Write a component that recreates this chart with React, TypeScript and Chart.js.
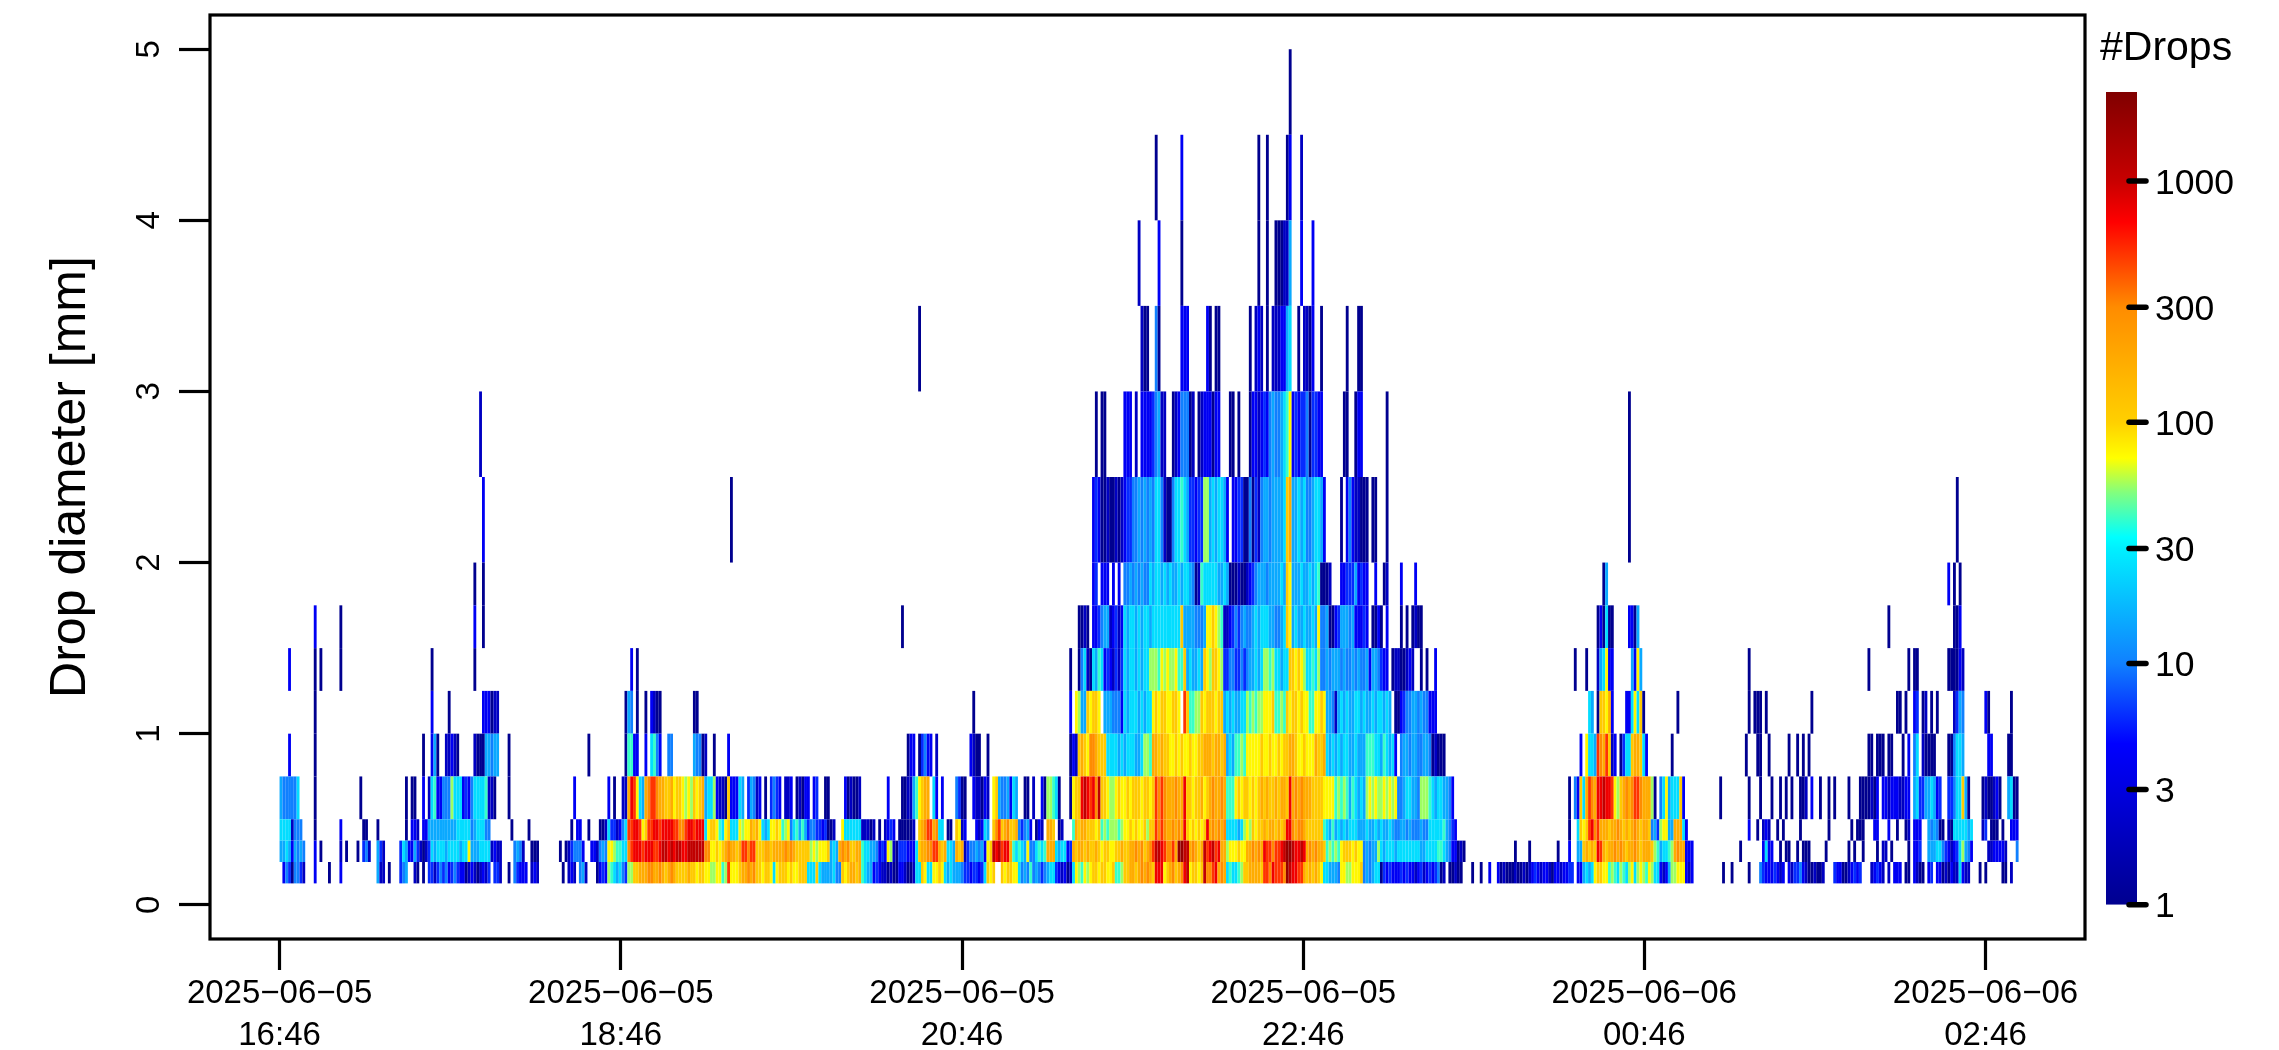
import { useEffect, useRef } from 'react';
import { Chart, registerables } from 'chart.js';

Chart.register(...registerables);

type Seg = [number, string];

const FONT = '"Liberation Sans", Arial, sans-serif';

// bin edges of the disdrometer classes [mm]
const binEdges = [0.125, 0.25, 0.375, 0.5, 0.75, 1, 1.25, 1.5, 1.75, 2, 2.5, 3, 3.5, 4, 4.5, 5];

// every letter is one estimated drop count, read from the colour of the cell
const levelLetters = 'abcdefghijklmnopq';
const levelCounts = [1, 2, 4, 6, 10, 15, 25, 40, 55, 75, 110, 180, 300, 500, 750, 1100, 1800];

// [first record after 16:46, counts of consecutive records]
const bin0: Seg[] = [[1,"cedaeedb"],[12,"c"],[17,"a"],[21,"c"],[34,"fbb"],[38,"a"],[42,"def"],[47,"ba"],[50,"a"],[52,"ddbdedecdedccabcbabcbd"],[75,"ddb"],[80,"a"],[82,"edccc"],[88,"bcb"],[99,"a"],[101,"bcb"],[105,"efb"],[111,"a"],[112,"cdc"],[115,"ihgfged"],[122,"i"],
  [123,"ikklllmmllmlklmlkkkklkkjkkjjiijjhinjjjkllmlmkkjkkjgjkkkjkjjkkkgggkgffffgeekjkllklhgffcdcbbabaaccbaabggkjggjjkjgfgfffeddcddcdgkjk"],
  [253,"kjkkjjgefehefedefggdcbcabgjihjijkkjkkjjkhhikkllklmlmlkooojklmklmopjkkjkpmmnolmlghgghikkllllknnmonnnmqpoonnlklklkjggfffejjiijjjkefefgga"],[387,"dcdcccdcdccbcdbcdcdeab"],[410,"aabaa"],[418,"a"],[421,"a"],[424,"c"],[427,"cabaaabaababcdcbccbaccbcc"],
  [452,"dd"],[455,"cc"],[457,"fgfg"],[461,"jkkjj"],[466,"hi"],[468,"hgihg"],[473,"ijgijihji"],[482,"gg"],[484,"cbc"],[487,"f"],[488,"iij"],[491,"jj"],[493,"cbc"],[506,"a"],[509,"a"],[515,"a"],[519,"edcccdcbc"],[529,"cbddec"],[535,"baabaab"],[545,"dccaabcd"],[553,"cd"],[558,"bcdcb"],[564,"b"],[566,"ccc"],[570,"aa"],[573,"cbaa"],[578,"cd"],[581,"ccabacbb"],[589,"g"],[590,"cbb"],[596,"a"],[598,"a"],[604,"aa"],[607,"b"]];
const bin1: Seg[] = [[0,"ffgfcfefe"],[12,"c"],[14,"a"],[21,"b"],[23,"a"],[27,"a"],[29,"deb"],[34,"fdb"],[42,"dgf"],[45,"ccfdbab"],[52,"dgfgggfggggfgg"],[66,"j"],[67,"fffgggg"],[74,"bcbb"],[82,"efeb"],[88,"aaa"],[98,"a"],[100,"abdeeec"],[109,"ccb"],[112,"efe"],[115,"jj"],[117,"ihhgg"],[122,"m"],
  [123,"nooonooonnoppopoppooppppppp"],[149,"mm"],[151,"jjkjkl"],[157,"m"],[158,"llkl"],[162,"nnmnn"],[167,"kkkllkl"],[174,"lllmlmlkkkkk"],[186,"ijijjjk"],[193,"fgf"],[196,"lmlmkkll"],[204,"hggff"],[209,"ecdc"],[213,"ji"],[215,"ba"],[217,"dddc"],[221,"ccg"],[224,"kl"],[226,"lmmnnlkl"],[234,"ggf"],[237,"lkl"],[240,"bdeef"],[245,"efc"],[248,"jk"],[250,"pop"],
  [253,"noolh"],[258,"ghgf"],[262,"jeeg"],[266,"hgh"],[269,"lll"],[272,"gfgg"],[276,"cd"],[278,"lkllklkkl"],[287,"kjkkjjkklkkllmlmklmn"],[307,"ppo"],[310,"nmmnl"],[315,"qqpp"],[319,"lmlkl"],[324,"pn"],[326,"opnoll"],[332,"ijj"],[335,"jkjj"],[339,"llmlml"],[345,"onnmn"],[350,"nop"],[353,"qqp"],[356,"oopo"],[360,"lmlmll"],[366,"k"],[367,"hihih"],[372,"jkkkj"],[377,"kjj"],[380,"efeff"],[385,"i"],[386,"gfgggfggggggggffgggg"],[406,"hhg"],[409,"fe"],[411,"cc"],[413,"aba"],
  [433,"a"],[438,"a"],[448,"a"],[452,"c"],[455,"ff"],[457,"klkl"],[461,"ko"],[463,"nl"],[465,"kl"],[467,"lmlmlkllmlkll"],[480,"lk"],[482,"ih"],[484,"f"],[485,"gg"],[487,"hi"],[489,"lml"],[492,"l"],[493,"ccc"],[512,"a"],[520,"c"],[521,"gc"],[523,"c"],[526,"a"],[528,"aa"],[532,"a"],[534,"aaa"],[542,"a"],[550,"a"],[552,"a"],[555,"a"],[560,"a"],[562,"bb"],[565,"a"],[571,"a"],[573,"ccd"],[578,"fffgge"],[584,"dcbcd"],[589,"gi"],[591,"fec"],[599,"bbc"],[602,"cccb"],[609,"e"]];
const bin2: Seg[] = [[0,"gggg"],[4,"b"],[5,"eee"],[12,"a"],[21,"c"],[29,"aa"],[34,"a"],[44,"a"],[46,"ccb"],[50,"cc"],[52,"ffffffffffgggggefgggee"],[81,"a"],[87,"a"],[102,"a"],[104,"cc"],[108,"a"],[112,"aab"],[115,"g"],[116,"ddbce"],[121,"g"],[122,"n"],
  [123,"n"],[124,"oon"],[127,"jk"],[129,"nnoonoooonnmmnoonoooo"],[149,"gjkkjhgjk"],[158,"ggg"],[161,"jijj"],[165,"lkl"],[168,"j"],[169,"gfg"],[172,"jjkj"],[176,"hij"],[179,"e"],[180,"ghfhf"],[185,"deeddcd"],[192,"aab"],[197,"j"],[198,"gggggg"],[204,"bbbab"],[210,"a"],[212,"bcdc"],[217,"aaaaab"],[224,"kl"],[226,"mnnlm"],[231,"gg"],[234,"aa"],[237,"kj"],[239,"bc"],[244,"cbc"],[247,"gf"],[250,"kmn"],
  [253,"klmkkl"],[259,"edefc"],[265,"acb"],[269,"llk"],[273,"ab"],[278,"h"],[279,"lkllkkkjk"],[288,"hihii"],[293,"ihijj"],[298,"kjkjjk"],[304,"ikk"],[307,"nmnml"],[312,"lmlml"],[317,"o"],[318,"kjkjkjk"],[325,"o"],[326,"lmlmlm"],[332,"ggggfg"],[338,"iji"],[341,"kjk"],[344,"klkllklkl"],[353,"oo"],[355,"mlmml"],[360,"kkkkkk"],[366,"hgfh"],[370,"fgfgfgggf"],[379,"ffgffgfgffgf"],[391,"eeffefeeefee"],[403,"gggggh"],[409,"fed"],[412,"c"],
  [452,"a"],[455,"g"],[456,"kjk"],[459,"nomn"],[463,"lllkllmlklklmlkllk"],[481,"efd"],[484,"ijj"],[487,"ff"],[489,"lll"],[492,"g"],[493,"c"],[515,"c"],[518,"a"],[520,"bcb"],[525,"a"],[527,"a"],[533,"a"],[543,"a"],[551,"a"],[553,"aaa"],[559,"cc"],[564,"c"],[567,"a"],[570,"ab"],[573,"ccc"],[578,"fefe"],[582,"aa"],[585,"ba"],[587,"gggggfg"],[597,"bd"],[600,"aaa"],[604,"a"],[607,"ccc"]];
const bin3: Seg[] = [[0,"feeeeeg"],[12,"a"],[28,"a"],[44,"a"],[46,"aa"],[50,"c"],[52,"bghc"],[56,"ceee"],[60,"i"],[61,"ggg"],[64,"cdce"],[68,"ggggh"],[73,"b"],[74,"ba"],[80,"a"],[103,"c"],[115,"c"],[117,"a"],[120,"bb"],[122,"l"],
  [123,"onjgflmnnmllkkljkkjijikjklfggicbbakccc"],[161,"gf"],[164,"dfe"],[167,"bc"],[170,"a"],[172,"dedc"],[177,"bbc"],[181,"abacc"],[187,"cd"],[191,"aa"],[198,"cabaab"],[213,"c"],[218,"aabb"],[222,"fhj"],[225,"kll"],[229,"gc"],[232,"c"],[237,"edaa"],[243,"cbbacb"],[250,"jkf"],
  [253,"eef"],[256,"c"],[257,"gf"],[261,"aa"],[264,"b"],[267,"ca"],[269,"iihg"],[273,"a"],[277,"a"],[278,"jkkopon"],[285,"omp"],[288,"kk"],[290,"jii"],[293,"jkjj"],[297,"kjk"],[300,"kkjkkjk"],[307,"nmnm"],[311,"lllmll"],[317,"o"],[318,"kkjkkljk"],[326,"lmllml"],[332,"hhh"],[335,"jkjkkjkjk"],[344,"lklkklkllk"],[354,"o"],[355,"lmlmlll"],[362,"kkkk"],[366,"jjjj"],[370,"hihih"],[375,"fh"],[377,"gfgf"],[381,"ijijiijijij"],[392,"eef"],[395,"gg"],[397,"ffe"],[400,"iiih"],[404,"gfggffe"],[411,"c"],
  [452,"a"],[454,"eck"],[457,"gl"],[459,"nm"],[461,"l"],[462,"oopoon"],[468,"ji"],[470,"kl"],[472,"mlm"],[475,"nnm"],[478,"lll"],[481,"ia"],[484,"egj"],[487,"fg"],[489,"gg"],[491,"kc"],[505,"a"],[515,"a"],[519,"a"],[523,"a"],[526,"a"],[528,"a"],[530,"a"],[533,"aab"],[537,"c"],[540,"a"],[543,"a"],[545,"a"],[550,"a"],[554,"aaaa"],[558,"bac"],[562,"ccbc"],[566,"ccbb"],[570,"cc"],[573,"fg"],[575,"dd"],[577,"ffgf"],[581,"cd"],[585,"dde"],[588,"gg"],[590,"k"],[591,"fa"],[597,"aba"],[600,"abca"],[606,"fg"],[608,"aa"]];
const bin4: Seg[] = [[3,"c"],[12,"a"],[50,"a"],[53,"cf"],[55,"a"],[58,"bbcba"],[68,"ba"],[70,"aa"],[72,"ff"],[74,"eff"],[80,"a"],[108,"a"],[121,"a"],[122,"h"],
  [123,"h"],[124,"cc"],[128,"c"],[130,"gh"],[132,"ec"],[136,"ee"],[145,"fee"],[148,"ab"],[152,"a"],[157,"c"],[220,"acc"],[224,"adecc"],[230,"b"],[242,"cbaa"],[248,"a"],
  [277,"acb"],[280,"klk"],[283,"j"],[284,"mmlk"],[288,"kk"],[290,"ggg"],[293,"gfgfgggffg"],[303,"iih"],[306,"llkl"],[310,"kkjjkjk"],[317,"jjkjj"],[322,"kkll"],[326,"lkllkl"],[332,"fgf"],[335,"hhih"],[339,"jjjjj"],[344,"kjjkjjkjkk"],[354,"ll"],[356,"kjjkjjj"],[363,"lkkl"],[367,"gfgfgfggffgfff"],[381,"hhh"],[384,"g"],[385,"gfhgfg"],[391,"c"],[393,"effeffeeffe"],[404,"abaaa"],
  [456,"c"],[458,"j"],[459,"ggf"],[462,"n"],[463,"mln"],[466,"k"],[467,"bc"],[470,"ad"],[472,"gg"],[474,"kllk"],[478,"gc"],[488,"a"],[514,"a"],[518,"aa"],[522,"a"],[529,"a"],[532,"a"],[534,"a"],[536,"a"],[557,"aa"],[560,"aaa"],[564,"aa"],[569,"a"],[571,"c"],[573,"eg"],[576,"ba"],[578,"aaa"],[585,"aa"],[587,"eggf"],[599,"cc"],[606,"aa"]];
const bin5: Seg[] = [[12,"a"],[53,"c"],[59,"a"],[71,"ccc"],[74,"abb"],[121,"a"],[122,"fe"],[125,"a"],[128,"a"],[130,"cbaa"],[145,"aa"],[243,"a"],
  [277,"c"],[279,"ji"],[281,"ff"],[283,"kjkkj"],[289,"fffeee"],[295,"c"],[296,"gfgggfgfgg"],[306,"jkjkkjjkkj"],[317,"nk"],[319,"hh"],[321,"ii"],[323,"kjkkkjkk"],[331,"fgfgff"],[337,"gg"],[339,"ihihii"],[345,"jjjk"],[349,"hhih"],[353,"kjkkjkjj"],[361,"hh"],[363,"jjkj"],[367,"ffe"],[370,"b"],[371,"fgfgffggfgffgfggfgf"],[391,"aa"],[393,"cde"],[396,"effefee"],[403,"ccc"],
  [459,"gf"],[462,"a"],[463,"kkj"],[466,"lc"],[472,"cc"],[474,"gjgk"],[478,"a"],[490,"a"],[515,"a"],[517,"aaa"],[521,"a"],[537,"a"],[567,"aa"],[570,"a"],[573,"cd"],[576,"ab"],[579,"a"],[581,"a"],[587,"bdfe"],[598,"ca"],[607,"a"]];
const bin6: Seg[] = [[3,"c"],[12,"a"],[14,"a"],[21,"a"],[53,"a"],[68,"a"],[123,"c"],[125,"a"],
  [277,"a"],[280,"a"],[281,"eg"],[283,"b"],[284,"a"],[285,"gfhg"],[289,"cdcb"],[293,"dbd"],[296,"gfggfgfgg"],[305,"iiih"],[309,"jijiij"],[315,"hh"],[317,"k"],[318,"fgffgf"],[324,"kjikkji"],[331,"ddeeddedeffgfg"],[345,"iihi"],[349,"ggfgg"],[354,"kk"],[356,"jkji"],[360,"gghg"],[364,"i"],[365,"eefef"],[370,"ffefeefefeef"],[382,"c"],[383,"ffedcc"],[390,"abbaabcb"],[400,"a"],[402,"a"],[405,"c"],
  [454,"a"],[458,"a"],[462,"bfgjcc"],[474,"fcjf"],[515,"a"],[557,"a"],[571,"a"],[573,"aa"],[585,"aaaac"],[590,"b"]];
const bin7: Seg[] = [[12,"c"],[21,"a"],[68,"c"],[71,"a"],[218,"a"],
  [280,"aaba"],[285,"cc"],[287,"deff"],[291,"bcdbc"],[296,"gfggfgfggf"],[306,"gggggggggg"],[316,"k"],[317,"ffffe"],[322,"eef"],[325,"jjk"],[328,"jih"],[331,"bbc"],[334,"dedefeefgfgggffeefg"],[353,"kj"],[355,"fgffgffgf"],[364,"j"],[365,"eef"],[368,"aa"],[370,"cdfffef"],[377,"cccdc"],[383,"aaca"],[388,"c"],[393,"a"],[395,"a"],[397,"aba"],[400,"a"],
  [462,"acag"],[466,"aa"],[473,"cca"],[476,"f"],[564,"a"],[587,"aac"]];
const bin8: Seg[] = [[68,"a"],[71,"a"],
  [285,"cd"],[288,"ccc"],[292,"c"],[294,"c"],[296,"eefefefee"],[305,"gfggfgfg"],[313,"ffgfggfe"],[321,"ab"],[323,"hgggggffgf"],[333,"aaabaab"],[340,"cd"],[342,"efffeffffgf"],[353,"kj"],[355,"fffgffgfg"],[364,"h"],[365,"aaab"],[372,"ccdddfcdcc"],[384,"c"],[387,"ab"],[393,"c"],[398,"c"],
  [464,"af"],[585,"c"],[587,"a"],[589,"a"]];
const bin9: Seg[] = [[71,"c"],[158,"a"],
  [285,"cdcaabaabab"],[296,"cddeef"],[302,"efefe"],[307,"gg"],[309,"ebaa"],[313,"egghgf"],[319,"ddcdd"],[324,"ii"],[326,"fgfggf"],[332,"c"],[334,"ccdda"],[339,"aeadb"],[344,"effeff"],[350,"ffg"],[353,"kl"],[355,"ffgfgeefggf"],[366,"c"],[372,"a"],[374,"ce"],[376,"cbbaa"],[381,"a"],[383,"aa"],[388,"a"],
  [473,"a"],[588,"a"]];
const bin10: Seg[] = [[70,"b"],[286,"a"],[288,"aa"],[296,"ccc"],[300,"b"],[302,"cccc"],[306,"d"],[307,"ef"],[309,"bb"],[313,"a"],[314,"bc"],[316,"eee"],[319,"ab"],[322,"ab"],[324,"c"],[325,"cc"],[327,"a"],[328,"cc"],[333,"aa"],[336,"a"],[340,"ac"],[342,"cbc"],[345,"dc"],[347,"ef"],[349,"ee"],[351,"fg"],[353,"h"],[354,"j"],[355,"cd"],[357,"cd"],[359,"de"],[361,"a"],[362,"dd"],[364,"cc"],[373,"aa"],[377,"a"],[378,"cc"],[388,"a"],[473,"a"]];
const bin11: Seg[] = [[224,"a"],[302,"baa"],[307,"ea"],[316,"ccc"],[325,"c"],[326,"a"],[328,"aa"],[340,"a"],[342,"bcb"],[346,"a"],[348,"bbb"],[351,"cc"],[353,"fg"],[357,"a"],[359,"bba"],[362,"c"],[365,"a"],[374,"a"],[378,"aa"]];
const bin12: Seg[] = [[301,"b"],[308,"c"],[316,"a"],[343,"a"],[346,"a"],[349,"aaab"],[353,"b"],[354,"f"],[358,"c"],[362,"c"]];
const bin13: Seg[] = [[307,"a"],[316,"c"],[343,"a"],[346,"a"],[353,"a"],[354,"c"],[358,"b"]];
const bin14: Seg[] = [[354,"a"]];
const binCounts = [bin0, bin1, bin2, bin3, bin4, bin5, bin6, bin7, bin8, bin9, bin10, bin11, bin12, bin13, bin14];

const yTicks = [0, 1, 2, 3, 4, 5];
// tick positions, counted in records along the x axis
const xTickRecords = [0, 119.7, 239.4, 359.1, 478.7, 598.4];
const xTickDates = ['2025−06−05', '2025−06−05', '2025−06−05', '2025−06−05', '2025−06−06', '2025−06−06'];
const xTickTimes = ['16:46', '18:46', '20:46', '22:46', '00:46', '02:46'];

const colorbarTicks = [1, 3, 10, 30, 100, 300, 1000];
const colorbarMax = 2340;
// count -> colour
const colorStopCounts = [1, 3, 4.65, 10, 30, 33.4, 50.8, 71, 100, 300, 676, 1000, 2340];
const colorStopHex = ['#00008F', '#0000E0', '#0000FF', '#1080FF', '#00F0FF', '#00FFFF', '#80FF80', '#FFFF00', '#FFD000', '#FF8C00', '#FF0000', '#C80000', '#800000'];

function hexToRgb(hex: string) {
  return [1, 3, 5].map((i) => parseInt(hex.slice(i, i + 2), 16));
}

function colorForCount(count: number) {
  let i = colorStopCounts.findIndex((c) => c >= count);
  if (i <= 0) return colorStopHex[0];
  const lo = Math.log10(colorStopCounts[i - 1]);
  const hi = Math.log10(colorStopCounts[i]);
  const t = (Math.log10(count) - lo) / (hi - lo);
  const a = hexToRgb(colorStopHex[i - 1]);
  const b = hexToRgb(colorStopHex[i]);
  const c = a.map((v, k) => Math.round(v + (b[k] - v) * t));
  return `rgb(${c[0]},${c[1]},${c[2]})`;
}

function cellsOfBin(segs: Seg[], bin: number) {
  const cells = new Map<number, number>();
  segs.forEach(([start, letters]) => {
    letters.split('').forEach((l, i) => cells.set(start + i, levelCounts[levelLetters.indexOf(l)]));
  });
  return [...cells.entries()]
    .sort((a, b) => a[0] - b[0])
    .map(([record, count]) => ({ x: record + 0.5, y: [binEdges[bin], binEdges[bin + 1]], count }));
}

// R style box and rotated y labels
const boxPlugin = {
  id: 'box',
  afterDraw(chart: any) {
    const { ctx, chartArea, scales } = chart;
    ctx.save();
    ctx.strokeStyle = '#000';
    ctx.lineWidth = 3.2;
    ctx.strokeRect(chartArea.left, chartArea.top, chartArea.right - chartArea.left, chartArea.bottom - chartArea.top);
    ctx.fillStyle = '#000';
    ctx.font = `33px ${FONT}`;
    ctx.textAlign = 'center';
    ctx.textBaseline = 'alphabetic';
    yTicks.forEach((v) => {
      ctx.save();
      ctx.translate(159, scales.y.getPixelForValue(v));
      ctx.rotate(-Math.PI / 2);
      ctx.fillText(String(v), 0, 0);
      ctx.restore();
    });
    ctx.restore();
  },
};

const colorbarPlugin = {
  id: 'colorbarMarks',
  afterDraw(chart: any) {
    const { ctx, chartArea, scales } = chart;
    ctx.save();
    ctx.strokeStyle = '#000';
    ctx.lineWidth = 5.5;
    ctx.lineCap = 'round';
    ctx.fillStyle = '#000';
    ctx.textAlign = 'left';
    ctx.textBaseline = 'alphabetic';
    ctx.font = `35.5px ${FONT}`;
    colorbarTicks.forEach((v) => {
      const y = scales.y.getPixelForValue(v);
      ctx.beginPath();
      ctx.moveTo(chartArea.right - 8, y);
      ctx.lineTo(chartArea.right + 9, y);
      ctx.stroke();
      ctx.fillText(String(v), chartArea.right + 18, y + 12.7);
    });
    ctx.font = `41px ${FONT}`;
    ctx.fillText('#Drops', 10, 60);
    ctx.restore();
  },
};

function App() {
  const mainRef = useRef<HTMLCanvasElement | null>(null);
  const barRef = useRef<HTMLCanvasElement | null>(null);

  useEffect(() => {
    if (!mainRef.current || !barRef.current) return;

    const main = new Chart(mainRef.current, {
      type: 'bar',
      data: {
        datasets: binCounts.map((segs, bin) => ({
          label: `${binEdges[bin]}`,
          data: cellsOfBin(segs, bin) as any,
          grouped: false,
          barPercentage: 1,
          categoryPercentage: 1,
          borderWidth: 0,
          inflateAmount: 0,
          backgroundColor: (ctx: any) => colorForCount(ctx.raw ? ctx.raw.count : 1),
        })),
      },
      options: {
        animation: false,
        responsive: false,
        devicePixelRatio: 1,
        layout: { padding: { top: 15, right: 194, left: 0, bottom: 0 } },
        plugins: { legend: { display: false }, tooltip: { enabled: false } },
        scales: {
          x: {
            type: 'linear',
            offset: false,
            min: -24.4,
            max: 633.3,
            afterBuildTicks: (axis: any) => {
              axis.ticks = xTickRecords.map((value) => ({ value }));
            },
            afterFit: (axis: any) => {
              axis.height = 111;
            },
            border: { display: false },
            grid: { offset: false, drawOnChartArea: false, tickLength: 31, tickWidth: 3.2, tickColor: '#000' },
            ticks: {
              autoSkip: false,
              maxRotation: 0,
              padding: 2,
              color: '#000',
              font: { family: FONT, size: 33, lineHeight: 1.3 },
              callback: (value: any) => {
                const i = xTickRecords.indexOf(Number(value));
                return [xTickDates[i], xTickTimes[i]];
              },
            },
          },
          y: {
            type: 'linear',
            min: -0.2,
            max: 5.2,
            afterBuildTicks: (axis: any) => {
              axis.ticks = yTicks.map((value) => ({ value }));
            },
            afterFit: (axis: any) => {
              axis.width = 210;
            },
            border: { display: false },
            grid: { drawOnChartArea: false, tickLength: 31, tickWidth: 3.2, tickColor: '#000' },
            ticks: { display: false },
            title: {
              display: true,
              text: 'Drop diameter [mm]',
              color: '#000',
              font: { family: FONT, size: 50 },
              padding: { top: 41, bottom: 0 },
            },
          },
        },
      } as any,
      plugins: [boxPlugin],
    });

    const colorbar = new Chart(barRef.current, {
      type: 'bar',
      data: {
        labels: ['#Drops'],
        datasets: [
          {
            data: [[1, colorbarMax]] as any,
            barPercentage: 1,
            categoryPercentage: 1,
            borderWidth: 0,
            inflateAmount: 0,
            backgroundColor: (ctx: any) => {
              const { chartArea, ctx: c } = ctx.chart;
              if (!chartArea) return '#00008F';
              const g = c.createLinearGradient(0, chartArea.bottom, 0, chartArea.top);
              colorStopCounts.forEach((count, i) => {
                g.addColorStop(Math.log10(count) / Math.log10(colorbarMax), colorStopHex[i]);
              });
              return g;
            },
          },
        ],
      },
      options: {
        animation: false,
        responsive: false,
        devicePixelRatio: 1,
        layout: { padding: { top: 92, bottom: 145.3, left: 16, right: 0 } },
        plugins: { legend: { display: false }, tooltip: { enabled: false } },
        scales: {
          x: { display: false },
          y: {
            type: 'logarithmic',
            position: 'right',
            min: 1,
            max: colorbarMax,
            afterBuildTicks: (axis: any) => {
              axis.ticks = colorbarTicks.map((value) => ({ value }));
            },
            afterFit: (axis: any) => {
              axis.width = 142;
            },
            border: { display: false },
            grid: { display: false },
            ticks: { display: false },
          },
        },
      } as any,
      plugins: [colorbarPlugin],
    });

    return () => {
      main.destroy();
      colorbar.destroy();
    };
  }, []);

  return (
    <div style={{ position: 'absolute', left: 0, top: 0, width: 2279, height: 1050, background: '#fff' }}>
      <canvas ref={mainRef} width={2279} height={1050} style={{ position: 'absolute', left: 0, top: 0 }} />
      <canvas ref={barRef} width={189} height={1050} style={{ position: 'absolute', left: 2090, top: 0 }} />
    </div>
  );
}

export default App;
